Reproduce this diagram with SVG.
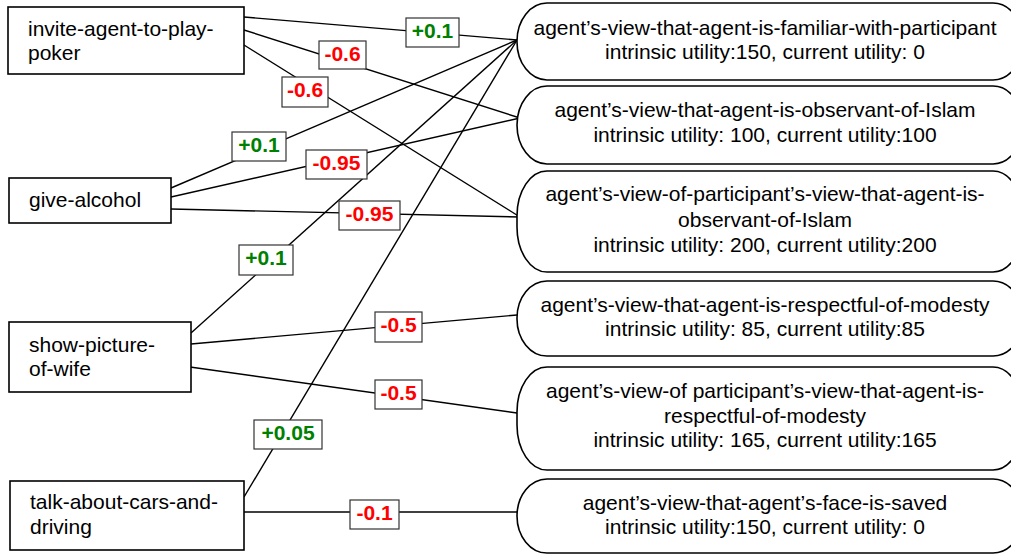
<svg xmlns="http://www.w3.org/2000/svg" width="1011" height="554" viewBox="0 0 1011 554">
<style>
.bg{fill:#fff}
.act{fill:#fff;stroke:#000;stroke-width:1.6}
.goal{fill:#fff;stroke:#000;stroke-width:1.6}
.t{font-family:"Liberation Sans",Arial,sans-serif;font-size:21px;fill:#000}
.c{text-anchor:middle}
.edge{stroke:#000;stroke-width:1.4;fill:none}
.lb{fill:#fff;stroke:#333;stroke-width:1.2}
.lt{font-family:"Liberation Sans",Arial,sans-serif;font-size:21px;font-weight:bold;text-anchor:middle}
.pos{fill:#008000}
.neg{fill:#ff0000}
</style>
<rect class="bg" x="0" y="0" width="1011" height="554"/>
<g id="connectors">
<path class="edge" d="M244,17 L517,40"/>
<path class="edge" d="M244,30 L520,118"/>
<path class="edge" d="M244,45 L520,217"/>
<path class="edge" d="M171,188 L517,40"/>
<path class="edge" d="M171,197 L520,118"/>
<path class="edge" d="M171,209 L520,217"/>
<path class="edge" d="M191,333 L517,40"/>
<path class="edge" d="M191,344 L517,315"/>
<path class="edge" d="M190,367 L517,413"/>
<path class="edge" d="M244,497 L517,40"/>
<path class="edge" d="M244,512 L517,512"/>
<g id="edge-labels">
<rect class="lb" x="406" y="18" width="53" height="29"/><text class="lt pos" x="432.5" y="38">+0.1</text>
<rect class="lb" x="319" y="41" width="47" height="28"/><text class="lt neg" x="342.5" y="61">-0.6</text>
<rect class="lb" x="282" y="77" width="46" height="30"/><text class="lt neg" x="305" y="97">-0.6</text>
<rect class="lb" x="232" y="132" width="54" height="29"/><text class="lt pos" x="259" y="152">+0.1</text>
<rect class="lb" x="306" y="150" width="61" height="29"/><text class="lt neg" x="336.5" y="170">-0.95</text>
<rect class="lb" x="339" y="201" width="61" height="29"/><text class="lt neg" x="369.5" y="221">-0.95</text>
<rect class="lb" x="239" y="245" width="54" height="30"/><text class="lt pos" x="266" y="265">+0.1</text>
<rect class="lb" x="375" y="312" width="47" height="30"/><text class="lt neg" x="398.5" y="332">-0.5</text>
<rect class="lb" x="375" y="380" width="47" height="29"/><text class="lt neg" x="398.5" y="400">-0.5</text>
<rect class="lb" x="254" y="420" width="68" height="29"/><text class="lt pos" x="288" y="440">+0.05</text>
<rect class="lb" x="350" y="500" width="49" height="29"/><text class="lt neg" x="374.5" y="520">-0.1</text>
</g>
</g>
<g id="invite-agent-to-play-poker">
<rect class="act" x="8" y="7" width="236" height="67"/>
<text class="t" x="28" y="36">invite-agent-to-play-</text>
<text class="t" x="28" y="60">poker</text>
</g>
<g id="give-alcohol">
<rect class="act" x="9" y="178" width="162" height="45"/>
<text class="t" x="29" y="207">give-alcohol</text>
</g>
<g id="show-picture-of-wife">
<rect class="act" x="9" y="322" width="182" height="70"/>
<text class="t" x="29" y="352">show-picture-</text>
<text class="t" x="29" y="376">of-wife</text>
</g>
<g id="talk-about-cars-and-driving">
<rect class="act" x="10" y="481" width="234" height="69"/>
<text class="t" x="30" y="509">talk-about-cars-and-</text>
<text class="t" x="30" y="534">driving</text>
</g>
<g id="familiar-with-participant">
<rect class="goal" x="517" y="3" width="506" height="77" rx="30" ry="38"/>
<text class="t c" x="765" y="35">agent’s-view-that-agent-is-familiar-with-participant</text>
<text class="t c" x="765" y="59">intrinsic utility:150, current utility: 0</text>
</g>
<g id="observant-of-islam">
<rect class="goal" x="517" y="86" width="506" height="78" rx="30" ry="39"/>
<text class="t c" x="765" y="117">agent’s-view-that-agent-is-observant-of-Islam</text>
<text class="t c" x="765" y="142">intrinsic utility: 100, current utility:100</text>
</g>
<g id="participant-view-observant-of-islam">
<rect class="goal" x="517" y="171" width="506" height="101" rx="30" ry="45"/>
<text class="t c" x="765" y="201">agent’s-view-of-participant’s-view-that-agent-is-</text>
<text class="t c" x="765" y="227">observant-of-Islam</text>
<text class="t c" x="765" y="252">intrinsic utility: 200, current utility:200</text>
</g>
<g id="respectful-of-modesty">
<rect class="goal" x="517" y="281" width="506" height="75" rx="30" ry="37"/>
<text class="t c" x="765" y="312">agent’s-view-that-agent-is-respectful-of-modesty</text>
<text class="t c" x="765" y="336">intrinsic utility: 85, current utility:85</text>
</g>
<g id="participant-view-respectful-of-modesty">
<rect class="goal" x="517" y="367" width="506" height="103" rx="30" ry="45"/>
<text class="t c" x="765" y="398">agent’s-view-of participant’s-view-that-agent-is-</text>
<text class="t c" x="765" y="423">respectful-of-modesty</text>
<text class="t c" x="765" y="447">intrinsic utility: 165, current utility:165</text>
</g>
<g id="face-is-saved">
<rect class="goal" x="517" y="479" width="506" height="74" rx="30" ry="37"/>
<text class="t c" x="765" y="510">agent’s-view-that-agent’s-face-is-saved</text>
<text class="t c" x="765" y="534">intrinsic utility:150, current utility: 0</text>
</g>
</svg>
